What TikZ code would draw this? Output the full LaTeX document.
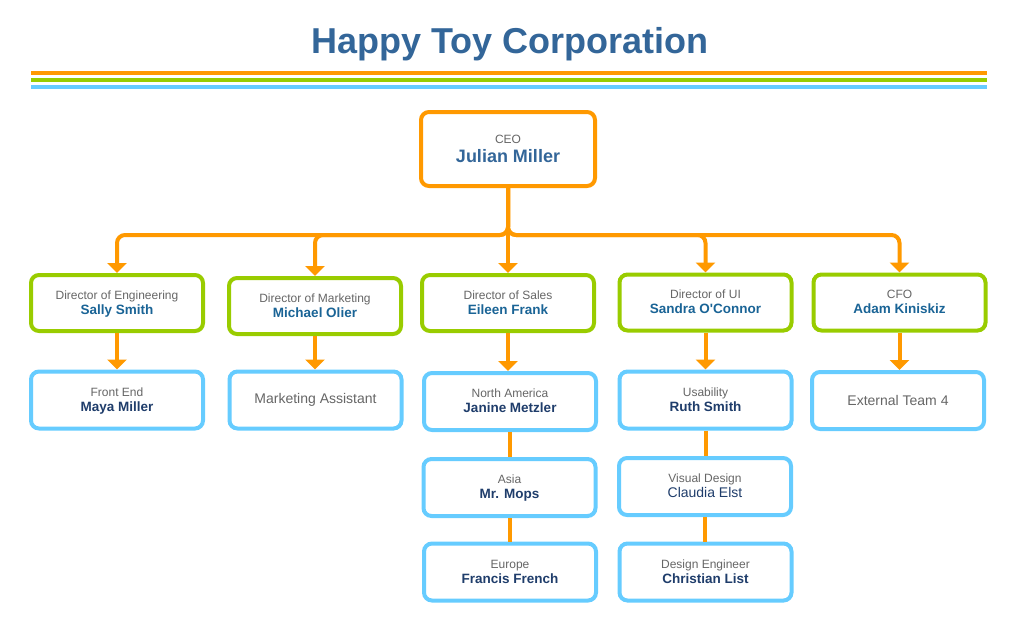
\documentclass[tikz,border=0pt]{standalone}
\usepackage{fontspec}
\setmainfont{Liberation Sans}
\usetikzlibrary{arrows.meta}
\definecolor{orn}{HTML}{FF9900}
\definecolor{grn}{HTML}{99CC00}
\definecolor{blu}{HTML}{66CCFF}
\definecolor{ttl}{HTML}{336699}
\definecolor{lab}{HTML}{666666}
\definecolor{dnm}{HTML}{1A6496}
\definecolor{snm}{HTML}{1F3D6B}
\newcommand\lbl[1]{{\rule{0pt}{11pt}\color{lab}#1}}
\newcommand\dname[1]{{\fontsize{13.5}{15}\selectfont\bfseries\color{dnm}#1\rule[-4pt]{0pt}{4pt}}}
\newcommand\sname[1]{{\fontsize{13.5}{15}\selectfont\bfseries\color{snm}#1\rule[-4pt]{0pt}{4pt}}}
\begin{document}
\begin{tikzpicture}[x=1pt,y=-1pt,
  box/.style={draw, line width=4pt, rounded corners=8pt, fill=white,
    minimum width=172pt, minimum height=56pt, inner sep=0pt, align=center,
    font=\fontsize{12}{15}\selectfont},
  ceobox/.style={box, draw=orn, minimum width=174pt, minimum height=74pt},
  dirbox/.style={box, draw=grn},
  subbox/.style={box, draw=blu, minimum height=57pt},
  single/.style={font=\fontsize{14}{16}\selectfont, text=lab},
  conn/.style={draw=orn, line width=4pt, rounded corners=8pt},
  arr/.style={conn, -{Triangle[width=19pt,length=10pt]}},
  bar/.style={line width=4.6pt},
]
\useasboundingbox (0,0) rectangle (1009,622);
% title and bars
\node[anchor=base, font=\fontsize{36}{40}\selectfont\bfseries, text=ttl, inner sep=0pt] (title) at (510,53) {Happy Toy Corporation};
\draw[bar, orn] (31,73) -- (987,73);
\draw[bar, grn] (31,80) -- (987,80);
\draw[bar, blu] (31,87) -- (987,87);
% nodes
\node[ceobox] (ceo) at (508,149) {\lbl{CEO}\\[4pt]{\fontsize{18}{20}\selectfont\bfseries\color{ttl}Julian Miller\rule[-4pt]{0pt}{4pt}}};
\node[dirbox] (eng) at (117,303) {\lbl{Director of Engineering}\\\dname{Sally Smith}};
\node[dirbox] (mkt) at (315,306) {\lbl{Director of Marketing}\\\dname{Michael Olier}};
\node[dirbox] (sal) at (508,303) {\lbl{Director of Sales}\\\dname{Eileen Frank}};
\node[dirbox] (ui) at (705.5,302.5) {\lbl{Director of UI}\\\dname{Sandra O\textquotesingle Connor}};
\node[dirbox] (cfo) at (899.5,302.5) {\lbl{CFO}\\\dname{Adam Kiniskiz}};
\node[subbox] (fe) at (117,400) {\lbl{Front End}\\\sname{Maya Miller}};
\node[subbox, single] (ma) at (315.5,400) {Marketing Assistant};
\node[subbox] (na) at (510,401.5) {\lbl{North America}\\\sname{Janine Metzler}};
\node[subbox] (asia) at (509.5,487.5) {\lbl{Asia}\\\sname{Mr. Mops}};
\node[subbox] (eu) at (510,572) {\lbl{Europe}\\\sname{Francis French}};
\node[subbox] (us) at (705.5,400) {\lbl{Usability}\\\sname{Ruth Smith}};
\node[subbox] (vd) at (705,486.5) {\lbl{Visual Design}\\{\fontsize{14}{15}\selectfont\color{snm}Claudia Elst\rule[-4pt]{0pt}{4pt}}};
\node[subbox] (de) at (705.5,572) {\lbl{Design Engineer}\\\sname{Christian List}};
\node[subbox, single] (ext) at (898,400.5) {External Team 4};
% connectors
\coordinate (split) at (508,235);
\draw[arr] (ceo.south) -- (split) -| (eng.north);
\draw[arr] (ceo.south) -- (split) -| (mkt.north);
\draw[arr] (ceo.south) -- (sal.north);
\draw[arr] (ceo.south) -- (split) -| (ui.north);
\draw[arr] (ceo.south) -- (split) -| (cfo.north);
\draw[arr] (eng.south) -- (fe.north);
\draw[arr] (mkt.south) -- (mkt.south |- ma.north);
\draw[arr] (sal.south) -- (sal.south |- na.north);
\draw[arr] (ui.south) -- (ui.south |- us.north);
\draw[arr] (cfo.south) -- (cfo.south |- ext.north);
\draw[conn] (na.south) -- (na.south |- asia.north);
\draw[conn] (asia.south) -- (asia.south |- eu.north);
\draw[conn] (us.south) -- (us.south |- vd.north);
\draw[conn] (vd.south) -- (vd.south |- de.north);
\end{tikzpicture}
\end{document}
